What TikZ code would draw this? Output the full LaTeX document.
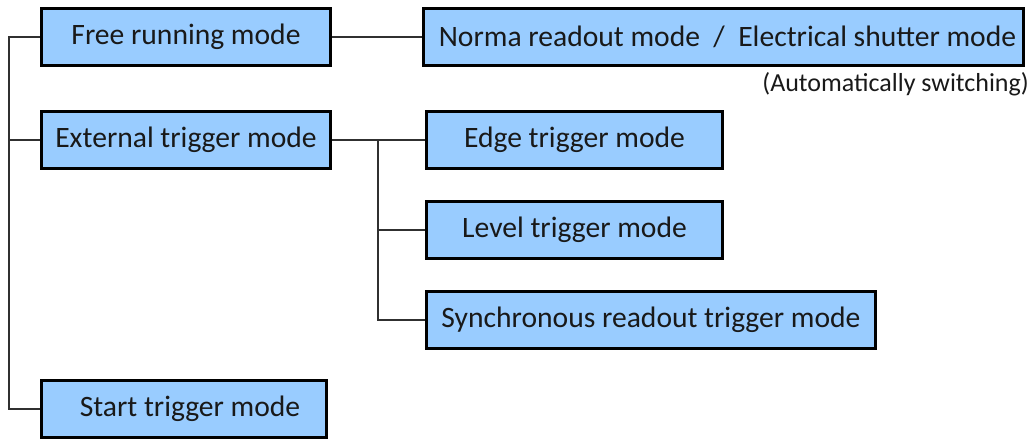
\documentclass[tikz,border=0pt]{standalone}
\usepackage{fontspec}
\setmainfont{Carlito}
\definecolor{boxblue}{HTML}{99CCFF}
\definecolor{linegray}{HTML}{303030}
\begin{document}
\begin{tikzpicture}[x=1pt,y=-1pt,
  modebox/.style={draw=black,line width=3pt,fill=boxblue,inner sep=0pt,
    minimum height=57pt,font=\fontsize{29.6}{34}\selectfont,text=black!90},
  conn/.style={draw=linegray,line width=1.6pt}]
\useasboundingbox (0,0) rectangle (1030,439);
\node[modebox,minimum width=289pt] (free) at (186,37) {Free running mode};
\node[modebox,minimum width=289pt] (ext) at (186,140) {External trigger mode};
\node[modebox,minimum width=285pt] (start) at (184,409) {\hspace{12pt}Start trigger mode};
\node[modebox,minimum width=600pt] (norma) at (723.5,37) {\hspace{8pt}Norma readout mode \ / \ Electrical shutter mode};
\node[modebox,minimum width=296pt] (edge) at (574.5,140) {Edge trigger mode};
\node[modebox,minimum width=296pt] (level) at (574.5,230) {Level trigger mode};
\node[modebox,minimum width=449pt] (sync) at (651,320) {Synchronous readout trigger mode};
\node[anchor=east,inner sep=0pt,font=\fontsize{26}{30}\selectfont,text=black!90] (auto) at (1029,84) {(Automatically switching)};
\coordinate (t1) at (9,37);
\coordinate (t3) at (9,409);
\coordinate (b1) at (378,140);
\draw[conn] (free.west) -- (t1) -- (t3) -- (start.west);
\draw[conn] (ext.west) -- (ext.west -| t1);
\draw[conn] (free.east) -- (norma.west);
\draw[conn] (ext.east) -- (edge.west);
\draw[conn] (b1) |- (sync.west);
\draw[conn] (b1 |- level.west) -- (level.west);
\end{tikzpicture}
\end{document}
